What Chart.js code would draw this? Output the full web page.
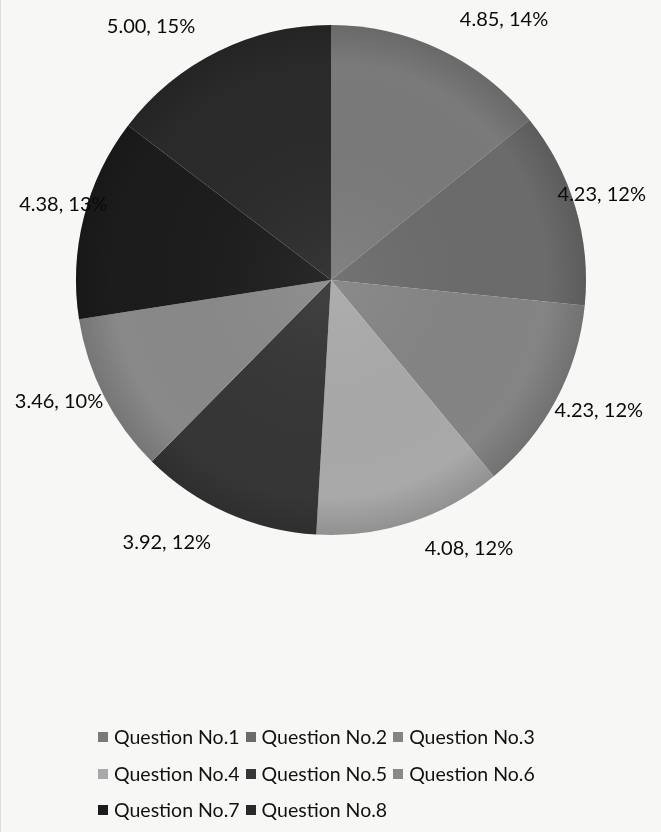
<!DOCTYPE html>
<html>
<head>
<meta charset="utf-8">
<script src="https://cdn.jsdelivr.net/npm/chart.js@4.4.1/dist/chart.umd.min.js"></script>
<style>
  html, body { margin: 0; padding: 0; background: #f7f7f5; }
  #wrap { position: relative; width: 661px; height: 832px; border-left: 1px solid #dcdcdc; box-sizing: border-box; }
  #pieChart { position: absolute; left: 0; top: 0; }
  #legend { position: absolute; left: 97px; top: 723px; width: 540px; font-family: Lato, "Noto Sans", sans-serif; font-size: 19.5px; color: #111; }
  #legend div.row { height: 36.5px; line-height: 28px; white-space: nowrap; }
  #legend span.item { display: inline-block; margin-right: 6px; }
  #legend span.box { display: inline-block; width: 10px; height: 10px; margin-right: 6px; vertical-align: 2px; }
</style>
</head>
<body>
<div id="wrap">
  <canvas id="pieChart"></canvas>
  <div id="legend"></div>
</div>
<script>
const labels = [
  "Question No.1",
  "Question No.2",
  "Question No.3",
  "Question No.4",
  "Question No.5",
  "Question No.6",
  "Question No.7",
  "Question No.8",
];
const values = [4.85, 4.23, 4.23, 4.08, 3.92, 3.46, 4.38, 5.0];
// percentages as printed on the chart
const shares = [14, 12, 12, 12, 12, 10, 13, 15];

const colors = [
  "#7a7a7a",
  "#6b6b6b",
  "#848484",
  "#a9a9a9",
  "#363636",
  "#898989",
  "#1c1c1c",
  "#2a2a2a",
];
// small tweaks so labels sit roughly where excel put them (degrees, px past rim)
const labelTurn = [8, -1, -2, -9, 8, 3, 1.5, -9];
const labelGap = [58, 29, 43, 47, 55, 43, 23, 56];

// soft darker rim like the excel style
const rimShade = {
  id: "rimShade",
  afterDatasetsDraw(chart) {
    const arc = chart.getDatasetMeta(0).data[0];
    const ctx = chart.ctx;
    const g = ctx.createRadialGradient(arc.x, arc.y, 0, arc.x, arc.y, arc.outerRadius);
    g.addColorStop(0, "rgba(255,255,255,0.06)");
    g.addColorStop(0.85, "rgba(0,0,0,0)");
    g.addColorStop(1, "rgba(0,0,0,0.14)");
    ctx.save();
    ctx.beginPath();
    ctx.arc(arc.x, arc.y, arc.outerRadius, 0, Math.PI * 2);
    ctx.fillStyle = g;
    ctx.fill();
    ctx.restore();
  },
};

// draws "value, pct%" outside every slice
const outsideLabels = {
  id: "outsideLabels",
  afterDatasetsDraw(chart) {
    const ctx = chart.ctx;
    const meta = chart.getDatasetMeta(0);
    ctx.save();
    ctx.font = "20px Lato, 'Noto Sans', sans-serif";
    ctx.fillStyle = "#0a0a0a";
    ctx.textAlign = "center";
    ctx.textBaseline = "middle";
    meta.data.forEach((arc, i) => {
      const mid = (arc.startAngle + arc.endAngle) / 2 + labelTurn[i] * Math.PI / 180;
      const r = arc.outerRadius + labelGap[i];
      const x = arc.x + Math.cos(mid) * r;
      const y = arc.y + Math.sin(mid) * r;
      ctx.fillText(values[i].toFixed(2) + ", " + shares[i] + "%", x, y);
    });
    ctx.restore();
  },
};

const data = {
  labels: labels,
  datasets: [
    {
      data: values,
      backgroundColor: colors,
      borderWidth: 0,
    },
  ],
};

const config = {
  type: "pie",
  data: data,
  options: {
    responsive: false,
    animation: false,
    layout: {
      padding: { top: 25, bottom: 297, left: 75, right: 76 },
    },
    plugins: {
      legend: { display: false },
      tooltip: { enabled: false },
    },
  },
  plugins: [rimShade, outsideLabels],
};

const canvas = document.getElementById("pieChart");
canvas.width = 661;
canvas.height = 832;
let myChart = new Chart(canvas, config);

// html legend, three per row like the original
const legend = document.getElementById("legend");
let row = null;
labels.forEach((l, i) => {
  if (i % 3 === 0) {
    row = document.createElement("div");
    row.className = "row";
    legend.appendChild(row);
  }
  const item = document.createElement("span");
  item.className = "item";
  item.innerHTML = '<span class="box" style="background:' + colors[i] + '"></span>' + l;
  row.appendChild(item);
});
</script>
</body>
</html>
